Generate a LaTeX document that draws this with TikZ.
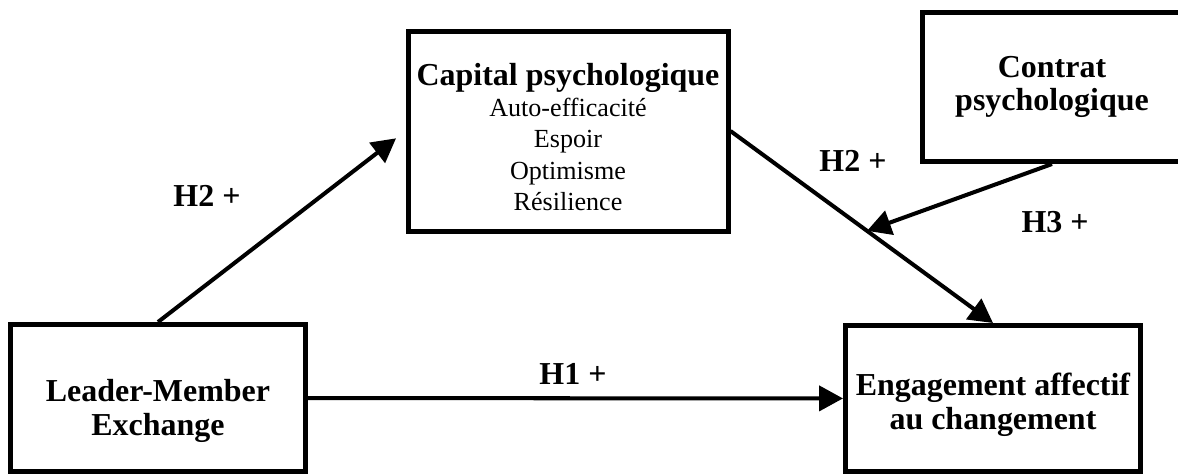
\documentclass[tikz,border=0pt]{standalone}
\usepackage{fontspec}
\setmainfont{Liberation Serif}
\usepackage{tikz}
\usetikzlibrary{arrows.meta}
\tikzset{
  node_box/.style={draw=black,line width=2.3pt,inner sep=2pt,align=center,
    font=\fontsize{14.7}{15.5}\selectfont\bfseries},
  node_list/.style={node_box,font=\fontsize{12}{14.3}\selectfont},
  hyp/.style={font=\fontsize{14.7}{16}\selectfont\bfseries},
  arr/.style={-{Triangle[length=11pt,width=11.5pt]},draw=black,line width=1.85pt},
}

\begin{document}
\begin{tikzpicture}[x=0.46pt,y=-0.46pt]
      \path[use as bounding box] (0,0) rectangle (1178,475);
      \clip (0,0) rectangle (1178,475);
      \node[node_box,minimum width=295*0.46pt,minimum height=147*0.46pt] (lmx) at (158,398) {\rule{0pt}{22pt}Leader-Member\\Exchange};
      \node[node_box,minimum width=295*0.46pt,minimum height=146*0.46pt] (eng) at (993,398.5) {\rule{0pt}{16.4pt}Engagement affectif\\au changement};
      \node[node_list,minimum width=320*0.46pt,minimum height=200*0.46pt] (cap) at (568,131)
        {\rule{0pt}{15.7pt}{\fontsize{14.7}{16}\selectfont\bfseries Capital psychologique}\\Auto-efficacité\\Espoir\\Optimisme\\Résilience};
      \node[node_box,minimum width=260*0.46pt,minimum height=149*0.46pt] (con) at (1052,87) {Contrat\\psychologique};
      % hypotheses
      \draw[arr] (lmx) -- (eng);
      \draw[arr,shorten >=5.5pt] (lmx.north) -- (cap.west);
      \draw[arr] (cap.east) -- coordinate[pos=0.52] (mod) (eng.north);
      \draw[arr] (con.south) -- (mod);
      \node[hyp] (h1) at (573,374) {H1 +};
      \node[hyp] (h2a) at (207,196) {H2 +};
      \node[hyp] (h2b) at (853,161) {H2 +};
      \node[hyp] (h3) at (1055,222) {H3 +};
    \end{tikzpicture}
\end{document}
